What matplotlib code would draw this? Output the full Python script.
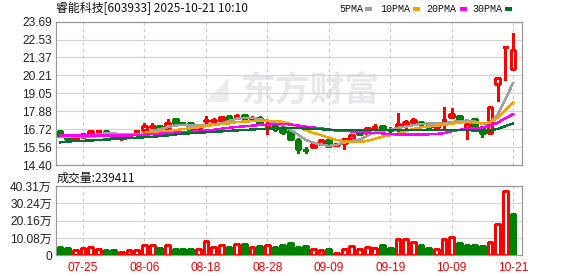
import matplotlib
matplotlib.use("Agg")
import matplotlib.pyplot as plt
from matplotlib.patches import Rectangle

TITLE = "睿能科技[603933] 2025-10-21 10:10"
VOL_LABEL = "成交量:239411"

# daily OHLC (07-22 .. 10-21)
opens = [16.62, 16.19, 16.06, 16.19, 16.49, 16.58, 16.62, 16.25, 16.17, 16.21,
         16.58, 16.67, 16.88, 16.90, 16.82, 17.38, 17.12, 17.10, 16.65, 17.28,
         17.28, 17.30, 17.55, 17.56, 17.64, 17.41, 17.43, 16.97, 16.99, 16.80,
         16.60, 16.04, 15.40, 15.59, 15.76, 16.00, 15.70, 15.82, 16.06, 16.45,
         16.45, 16.86, 16.95, 16.69, 16.71, 17.00, 17.17, 17.21, 16.90, 16.84,
         17.30, 17.53, 17.58, 16.71, 17.38, 16.71, 16.50, 19.63, 22.02, 20.60]
highs = [16.64, 16.21, 16.21, 16.49, 16.62, 16.62, 16.64, 16.49, 16.21, 16.45,
         16.62, 17.10, 17.10, 16.92, 17.38, 17.40, 17.21, 17.12, 16.82, 17.60,
         17.43, 17.50, 17.57, 17.73, 17.71, 17.58, 17.58, 17.17, 17.00, 16.82,
         16.62, 16.13, 15.59, 15.78, 16.02, 16.02, 15.76, 16.15, 16.36, 16.50,
         16.80, 17.04, 16.97, 16.88, 17.75, 17.32, 17.43, 17.23, 17.10, 17.00,
         18.14, 18.07, 17.62, 17.10, 17.47, 16.73, 18.16, 20.04, 22.02, 22.98]
lows = [16.26, 16.04, 16.04, 16.17, 16.41, 16.45, 16.41, 16.06, 16.04, 16.19,
        16.47, 16.56, 16.80, 16.67, 16.80, 17.12, 17.04, 16.60, 16.63, 17.10,
        17.17, 17.28, 17.32, 17.43, 17.30, 17.27, 17.02, 16.39, 16.60, 16.43,
        16.08, 15.18, 15.16, 15.50, 15.74, 15.63, 15.68, 15.46, 16.04, 16.38,
        16.43, 16.73, 16.65, 16.56, 16.45, 16.78, 17.04, 17.00, 16.78, 16.67,
        16.67, 17.50, 17.28, 16.06, 16.71, 16.19, 16.45, 18.57, 19.91, 20.58]
closes = [16.28, 16.06, 16.19, 16.43, 16.60, 16.60, 16.41, 16.21, 16.19, 16.43,
          16.60, 16.90, 16.90, 16.75, 17.10, 17.15, 17.10, 16.63, 16.80, 17.30,
          17.30, 17.49, 17.38, 17.58, 17.43, 17.43, 17.04, 16.99, 16.73, 16.52,
          16.10, 15.45, 15.37, 15.74, 16.00, 15.65, 15.74, 16.11, 16.34, 16.43,
          16.78, 16.88, 16.67, 16.67, 17.04, 17.19, 17.32, 17.04, 16.88, 16.99,
          17.32, 17.71, 17.32, 17.06, 16.73, 16.50, 18.14, 20.02, 22.02, 21.86]

# volume in 万, and whether the bar is drawn red (1) or green (0)
volumes = [4.9, 4.3, 2.9, 4.3, 4.6, 3.6, 3.2, 3.2, 2.2, 2.9,
           2.9, 5.9, 5.9, 4.3, 5.9, 3.6, 3.6, 3.6, 3.6, 8.2,
           4.6, 5.9, 4.9, 6.5, 6.7, 4.6, 5.4, 5.9, 4.9, 6.1,
           7.2, 4.7, 5.3, 3.9, 3.3, 3.5, 1.6, 3.9, 5.7, 3.9,
           5.1, 4.5, 5.9, 4.1, 9.2, 9.2, 8.0, 5.9, 4.1, 3.9,
           9.2, 10.4, 7.0, 5.9, 5.9, 5.3, 8.0, 18.0, 37.3, 23.94]
vol_up = [0, 0, 1, 1, 1, 1, 0, 0, 1, 1,
          1, 1, 1, 0, 1, 0, 0, 0, 1, 1,
          1, 1, 0, 1, 0, 1, 0, 1, 0, 0,
          0, 0, 0, 1, 1, 0, 1, 1, 1, 1,
          1, 1, 0, 0, 1, 1, 1, 0, 0, 1,
          1, 1, 0, 0, 0, 0, 1, 1, 1, 0]

ma5 = [16.35, 16.30, 16.26, 16.27, 16.31, 16.38, 16.45, 16.45, 16.40, 16.37,
       16.37, 16.47, 16.60, 16.72, 16.85, 16.96, 17.00, 16.95, 16.96, 17.00,
       17.03, 17.10, 17.25, 17.41, 17.44, 17.46, 17.37, 17.29, 17.12, 16.94,
       16.68, 16.36, 16.03, 15.84, 15.73, 15.64, 15.70, 15.85, 15.97, 16.05,
       16.28, 16.51, 16.62, 16.69, 16.81, 16.89, 16.98, 17.05, 17.09, 17.08,
       17.11, 17.19, 17.24, 17.28, 17.23, 17.06, 17.15, 17.69, 18.68, 19.71]
ma10 = [16.25, 16.24, 16.22, 16.22, 16.24, 16.27, 16.30, 16.31, 16.32, 16.34,
        16.37, 16.46, 16.53, 16.56, 16.61, 16.66, 16.73, 16.78, 16.84, 16.92,
        16.99, 17.05, 17.10, 17.18, 17.22, 17.24, 17.24, 17.27, 17.27, 17.19,
        17.07, 16.87, 16.66, 16.48, 16.34, 16.16, 16.03, 15.94, 15.90, 15.89,
        15.96, 16.10, 16.23, 16.33, 16.43, 16.59, 16.74, 16.84, 16.89, 16.95,
        17.00, 17.08, 17.15, 17.19, 17.16, 17.09, 17.17, 17.47, 17.98, 18.47]
ma20 = [16.32, 16.31, 16.30, 16.30, 16.30, 16.31, 16.31, 16.31, 16.31, 16.32,
        16.34, 16.37, 16.40, 16.43, 16.46, 16.50, 16.53, 16.55, 16.58, 16.63,
        16.68, 16.75, 16.81, 16.87, 16.91, 16.95, 16.99, 17.02, 17.05, 17.06,
        17.03, 16.96, 16.89, 16.83, 16.78, 16.70, 16.63, 16.61, 16.58, 16.54,
        16.51, 16.48, 16.45, 16.40, 16.38, 16.37, 16.38, 16.38, 16.39, 16.41,
        16.47, 16.59, 16.68, 16.75, 16.78, 16.83, 16.95, 17.15, 17.43, 17.70]
ma30 = [15.87, 15.92, 15.95, 15.97, 15.99, 16.02, 16.05, 16.08, 16.11, 16.14,
        16.17, 16.20, 16.23, 16.27, 16.32, 16.38, 16.43, 16.46, 16.49, 16.52,
        16.55, 16.58, 16.61, 16.64, 16.67, 16.70, 16.73, 16.76, 16.79, 16.82,
        16.81, 16.79, 16.77, 16.74, 16.72, 16.69, 16.67, 16.66, 16.67, 16.67,
        16.67, 16.67, 16.66, 16.66, 16.66, 16.66, 16.67, 16.68, 16.68, 16.67,
        16.67, 16.68, 16.68, 16.66, 16.64, 16.60, 16.64, 16.74, 16.92, 17.10]

ma_names = ["5PMA", "10PMA", "20PMA", "30PMA"]
ma_colors = ["#a0a0a0", "#f5a300", "#ff00ff", "#00702e"]

date_idx = [3, 11, 19, 27, 35, 43, 51, 59]
date_labels = ["07-25", "08-06", "08-18", "08-28", "09-09", "09-19", "10-09", "10-21"]
price_ticks = [14.40, 15.56, 16.72, 17.88, 19.05, 20.21, 21.37, 22.53, 23.69]
vol_ticks = [0, 10.08, 20.16, 30.24, 40.31]
vol_tick_labels = ["0", "10.08万", "20.16万", "30.24万", "40.31万"]

RED = "#ff0000"
GREEN = "#008000"
W, H = 578, 276
BODY = 0.62
FONT = ["Liberation Sans", "Noto Sans CJK SC"]
CJK = ["Noto Sans CJK SC", "DejaVu Sans"]


def px_axes(fig, left, top, right, bottom):
    return fig.add_axes([left / W, 1 - bottom / H, (right - left) / W, (bottom - top) / H])


def style_axes(ax):
    for s in ax.spines.values():
        s.set_color("#9a9a9a")
        s.set_linewidth(0.9)
    ax.set_axisbelow(True)
    ax.grid(axis="y", color="#d2d2d2", lw=0.8, ls="-")
    ax.grid(axis="x", color="#c8c8c8", lw=0.8, ls=(0, (3, 3)))
    ax.tick_params(length=0, pad=3, labelsize=8.6, colors="#222222")
    ax.set_xlim(-0.52, 60.16)
    ax.set_xticks(date_idx)


fig = plt.figure(figsize=(W / 100, H / 100), dpi=100)
fig.patch.set_facecolor("white")

# ---- price panel -------------------------------------------------------- #
ax = px_axes(fig, 56, 21.7, 522, 165)
style_axes(ax)
ax.set_ylim(price_ticks[0], price_ticks[-1])
ax.set_yticks(price_ticks)
ax.set_yticklabels([f"{t:.2f}" for t in price_ticks], family=FONT)
ax.tick_params(labelbottom=False)

# faint "东方财富" watermark with a rough flame mark in front of it
ax.text(0.545, 0.525, "东方财富", transform=ax.transAxes, fontsize=25, fontweight="bold",
        color="#e8e8eb", family=CJK, ha="center", va="center", zorder=0)
ax.text(0.345, 0.525, "◢", transform=ax.transAxes, fontsize=22,
        color="#ececef", family="DejaVu Sans", ha="center", va="center", zorder=0)

for i, (o, h, l, c) in enumerate(zip(opens, highs, lows, closes)):
    up = c >= o
    col = RED if up else GREEN
    ax.vlines(i, l, h, color=col, lw=1, zorder=2, antialiased=False)
    lo, hi = min(o, c), max(o, c)
    ax.add_patch(Rectangle((i - BODY / 2, lo), BODY, max(hi - lo, 0.012),
                           facecolor="white" if up else GREEN, edgecolor=col,
                           lw=1, zorder=3, antialiased=False))

x = list(range(len(closes)))
for vals, col in zip([ma5, ma10, ma20, ma30], ma_colors):
    ax.plot(x, vals, color=col, lw=1, zorder=4, antialiased=False)

# ---- volume panel ------------------------------------------------------- #
axv = px_axes(fig, 56, 186, 522, 255.3)
style_axes(axv)
axv.set_ylim(0, vol_ticks[-1])
axv.set_yticks(vol_ticks)
axv.set_yticklabels(vol_tick_labels, family=FONT)
axv.set_xticklabels(date_labels, family=FONT, color="#ee0000")
axv.tick_params(axis="x", pad=4.5, colors="#ee0000")
for i, (v, u) in enumerate(zip(volumes, vol_up)):
    axv.add_patch(Rectangle((i - BODY / 2, 0), BODY, v,
                            facecolor="white" if u else GREEN,
                            edgecolor=RED if u else GREEN, lw=1, zorder=3,
                            antialiased=False))

# ---- texts ------------------------------------------------------------- #
fig.text(56 / W, 1 - 8.7 / H, TITLE, family=CJK, fontsize=8.6, color="#111111",
         va="center", ha="left")
fig.text(57 / W, 1 - 178 / H, VOL_LABEL, family=CJK, fontsize=8.6, color="#111111",
         va="center", ha="left")

legend_x = [339, 380, 426, 472]
marker_x = [365, 413, 460, 505]
for name, col, tx, mx in zip(ma_names, ma_colors, legend_x, marker_x):
    fig.text(tx / W, 1 - 8.5 / H, name, family="Liberation Mono", fontsize=7.2,
             color="#111111", va="center", ha="left")
    fig.patches.append(Rectangle((mx / W, 1 - 10.7 / H), 6.5 / W, 3.4 / H,
                                 transform=fig.transFigure, facecolor=col,
                                 edgecolor="none", figure=fig))

fig.savefig("out.png", dpi=100)
